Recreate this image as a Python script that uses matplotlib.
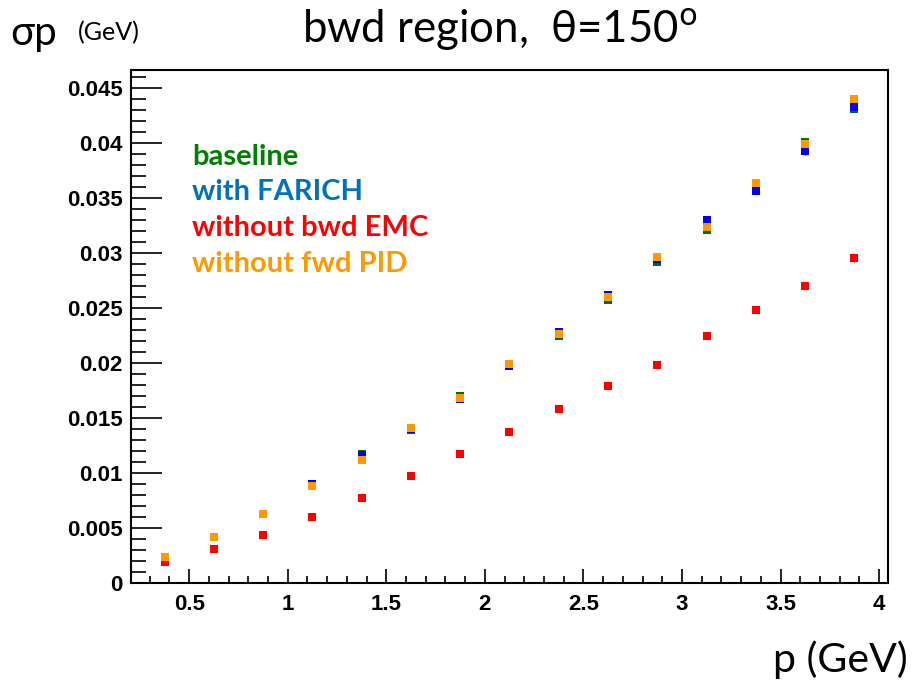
import matplotlib.pyplot as plt
from matplotlib.ticker import MultipleLocator, FormatStrFormatter

p = [0.375, 0.625, 0.875, 1.125, 1.375, 1.625, 1.875, 2.125,
     2.375, 2.625, 2.875, 3.125, 3.375, 3.625, 3.875]

baseline = [0.0024, 0.0042, 0.0063, 0.0089, 0.0117, 0.0139, 0.0170, 0.0198,
            0.0224, 0.0257, 0.0292, 0.0321, 0.0356, 0.0401, 0.0431]
farich = [0.0024, 0.0042, 0.0063, 0.0090, 0.0116, 0.0140, 0.0167, 0.0197,
          0.0228, 0.0262, 0.0294, 0.0330, 0.0356, 0.0392, 0.0432]
no_bwd_emc = [0.0019, 0.0031, 0.0044, 0.0060, 0.0077, 0.0097, 0.0117, 0.0137,
              0.0158, 0.0179, 0.0198, 0.0224, 0.0248, 0.0270, 0.0295]
no_fwd_pid = [0.0024, 0.0042, 0.0063, 0.0088, 0.0112, 0.0141, 0.0168, 0.0199,
              0.0226, 0.0260, 0.0296, 0.0323, 0.0363, 0.0399, 0.0440]
err = [0.00005, 0.00005, 0.00005, 0.00005, 0.0001, 0.0001, 0.0001, 0.0001,
       0.0001, 0.00015, 0.00015, 0.0002, 0.0003, 0.0003, 0.0003]

series = [
    ("baseline", baseline, "#006f00", "#008000"),
    ("with FARICH", farich, "#0000ff", "#0070c0"),
    ("without bwd EMC", no_bwd_emc, "#ff0000", "#ff0000"),
    ("without fwd PID", no_fwd_pid, "#ff9900", "#ff9900"),
]

fig = plt.figure(figsize=(9.13, 6.84), dpi=100)
ax = fig.add_axes([0.1435, 0.1477, 0.8295, 0.75])

for name, vals, mc, tc in series:
    ax.errorbar(p, vals, yerr=err, fmt='s', color=mc, ecolor='black',
                elinewidth=1, capsize=2, markersize=6, markeredgewidth=0)

ax.set_xlim(0.205, 4.047)
ax.set_ylim(0, 0.0466)
ax.xaxis.set_major_locator(MultipleLocator(0.5))
ax.xaxis.set_minor_locator(MultipleLocator(0.1))
ax.yaxis.set_major_locator(MultipleLocator(0.005))
ax.yaxis.set_minor_locator(MultipleLocator(0.001))
ax.xaxis.set_major_formatter(FormatStrFormatter('%g'))
ax.yaxis.set_major_formatter(FormatStrFormatter('%g'))
ax.tick_params(which='major', axis='x', length=10, width=1.2, direction='in', pad=8)
ax.tick_params(which='minor', axis='x', length=5, width=1.2, direction='in')
ax.tick_params(which='major', axis='y', length=22, width=1.2, direction='in', pad=6)
ax.tick_params(which='minor', axis='y', length=11, width=1.2, direction='in')
for lab in ax.get_xticklabels() + ax.get_yticklabels():
    lab.set_fontfamily('Liberation Sans')
    lab.set_fontweight('bold')
    lab.set_fontsize(16)
for s in ax.spines.values():
    s.set_linewidth(1.5)

# coloured legend text
for i, (name, vals, mc, tc) in enumerate(series):
    fig.text(192 / 913, 1 - (157 + i * 35.5) / 684, name, color=tc,
             fontsize=21, fontweight='bold', family='Lato', va='center')

fonts = ['Lato', 'DejaVu Serif']
fig.text(500 / 913, 1 - 30 / 684, "bwd region,  θ=150$^{\\rm o}$",
         fontsize=31.5, family=fonts, ha='center', va='center')
fig.text(10 / 913, 1 - 33 / 684, "σp", fontsize=29, family=fonts, va='center')
fig.text(78 / 913, 1 - 33 / 684, "(GeV)", fontsize=18, family='Lato', va='center')
fig.text(908 / 913, 1 - 660 / 684, "p (GeV)", fontsize=29.5, family='Lato',
         ha='right', va='center')

plt.savefig("out.png", dpi=100)
